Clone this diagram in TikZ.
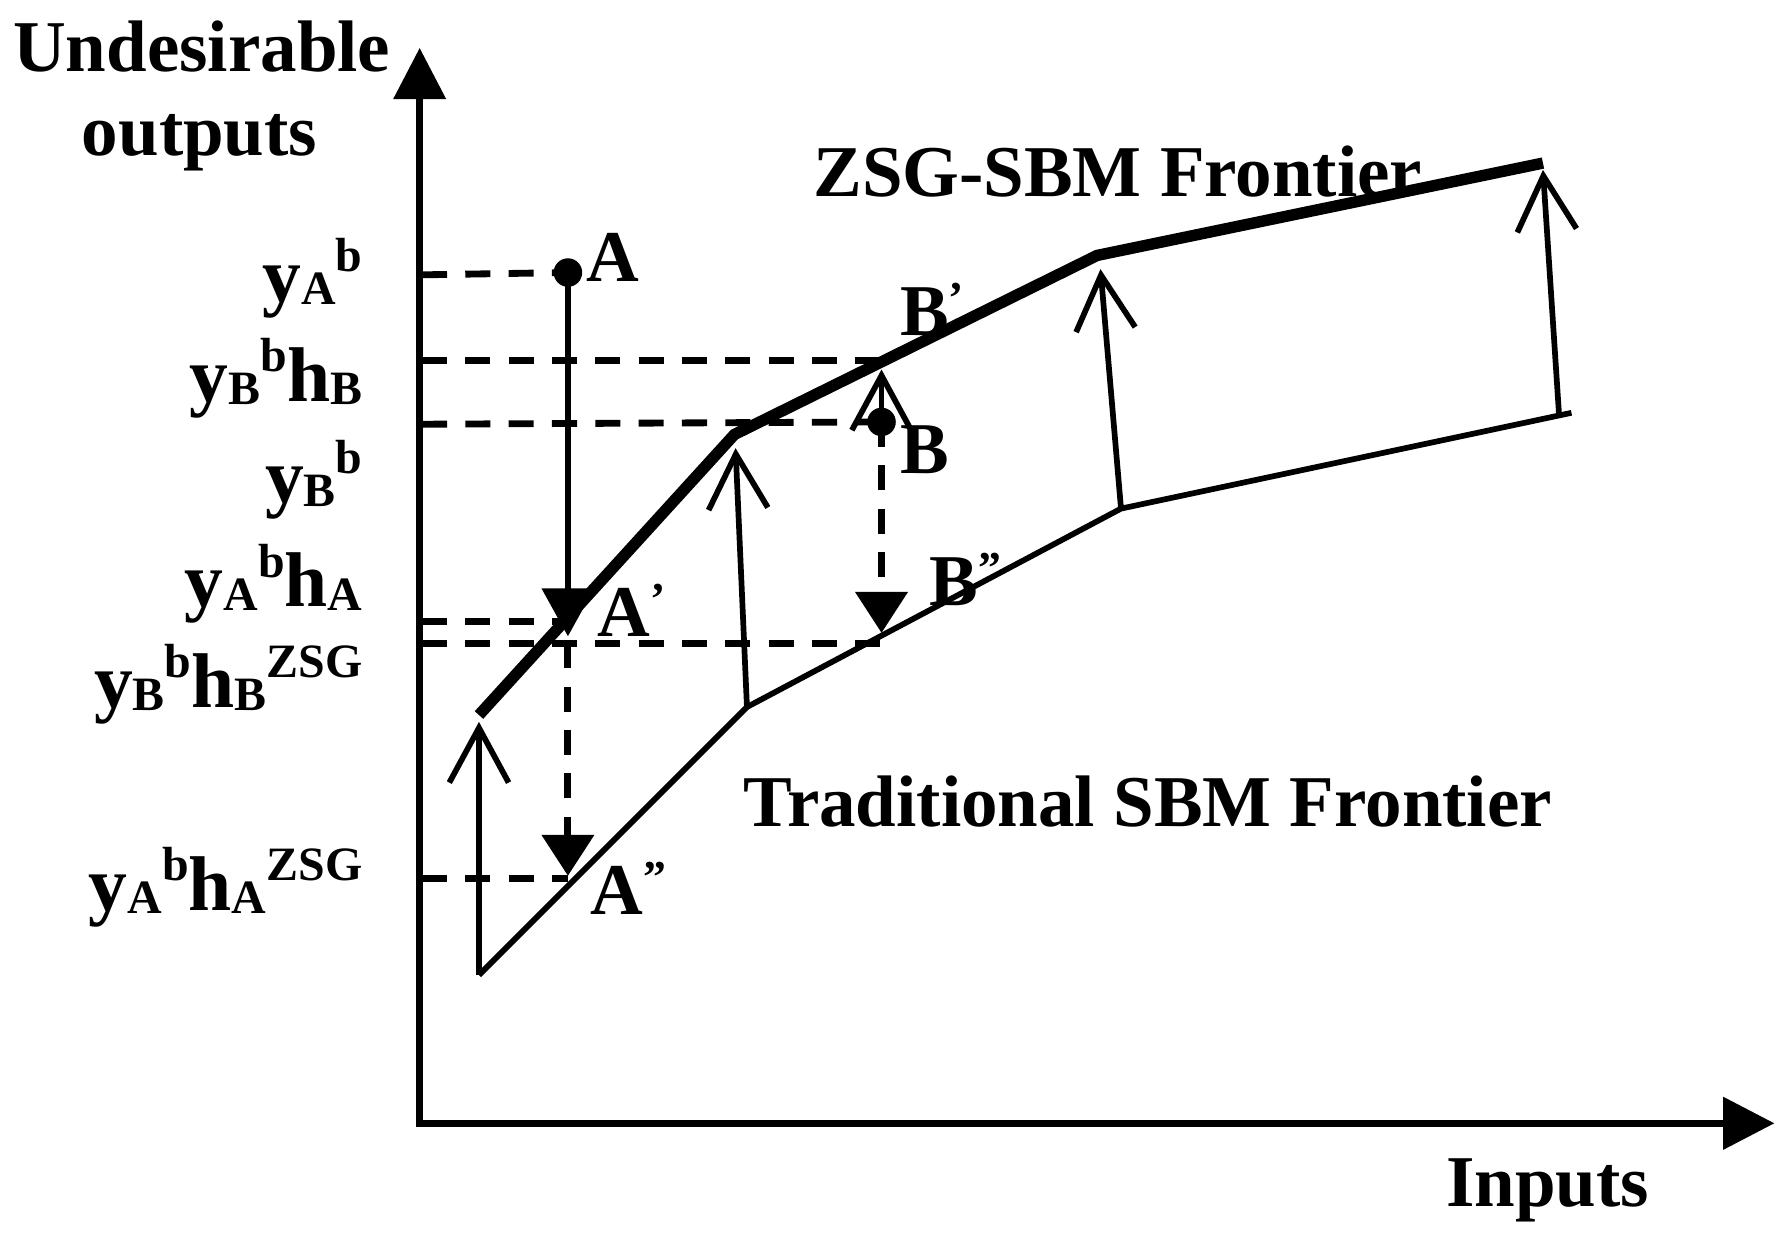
\documentclass[tikz,border=0pt]{standalone}
\usepackage{fontspec}
\setmainfont{Liberation Serif}
\usetikzlibrary{arrows.meta}
\newcommand\lsub[1]{\raisebox{-3pt}{\fontsize{42}{42}\selectfont #1}}
\newcommand\lsup[1]{\raisebox{26pt}{\fontsize{42}{42}\selectfont #1}}
\newcommand\lpr[1]{\raisebox{19pt}{\fontsize{40}{40}\selectfont #1}}
\begin{document}
\begin{tikzpicture}[x=1pt,y=-1pt,
  txt/.style={font=\fontsize{64}{70}\selectfont\bfseries, inner sep=0pt},
  lab/.style={font=\fontsize{68}{72}\selectfont\bfseries, inner sep=0pt, anchor=base east},
  ptlab/.style={txt, anchor=base west},
  axisline/.style={line width=6pt, -{Triangle[length=45pt,width=45pt]}},
  zsgline/.style={line width=10pt, line join=miter},
  tradline/.style={line width=5pt, line join=miter},
  shiftarrow/.style={line width=5pt, -{Straight Barb[length=48pt,width=52pt]}},
  guide/.style={line width=6pt, dash pattern=on 22pt off 16pt},
  downsolid/.style={line width=5pt, -{Triangle[length=42pt,width=45pt]}},
  downdash/.style={line width=6pt, dash pattern=on 22pt off 16pt, -{Triangle[length=36pt,width=45pt]}},
  dot/.style={circle, fill=black, inner sep=0pt, minimum size=25pt}
]
\useasboundingbox (0,0) rectangle (1560,1084);
% axes
\coordinate (O) at (368,988);
\coordinate (Ox) at (365,985);
\coordinate (Ytop) at (368,42);
\coordinate (Xend) at (1556,985);
\draw[axisline] (O) -- (Ytop);
\draw[axisline] (Ox) -- (Xend);
% frontiers
\coordinate (Z1) at (420,627);
\coordinate (Z2) at (644,381);
\coordinate (Z3) at (962,224);
\coordinate (Z4) at (1353,143);
\coordinate (T1) at (420,855);
\coordinate (T2) at (655,620);
\coordinate (T3) at (983,446);
\coordinate (T4) at (1378,362);
\draw[zsgline] (Z1) -- (Z2) -- (Z3) -- (Z4);
\draw[tradline] (T1) -- (T2) -- (T3) -- (T4);
% shift arrows
\coordinate (H1) at (420,633);
\coordinate (H2) at (645,393);
\coordinate (H4) at (965,236);
\coordinate (S5) at (1367,362);
\coordinate (H5) at (1353,149);
\draw[shiftarrow] (T1) -- (H1);
\draw[shiftarrow] (T2) -- (H2);
\draw[shiftarrow] (T3) -- (H4);
\draw[shiftarrow] (S5) -- (H5);
% points
\node[dot] (A) at (498,239) {};
\node[dot] (B) at (773,370) {};
\coordinate (Ap) at (498,545);
\coordinate (ApTip) at (498,558);
\coordinate (App) at (498,770);
\coordinate (AppTip) at (498,768);
\coordinate (Bp) at (773,316);
\coordinate (BpTip) at (773,324);
\coordinate (Bpp) at (773,564);
\coordinate (BppTip) at (773,555);
% axis anchors of guides
\coordinate (yA) at (370,241);
\coordinate (yBp) at (370,316);
\coordinate (yB) at (370,372);
\coordinate (yAp) at (370,545);
\coordinate (yBpp) at (370,564);
\coordinate (yApp) at (370,770);
% guides
\draw[guide] (yA) -- (A.center);
\draw[guide] (yBp) -- (Bp);
\draw[guide] (yB) -- (B.center);
\draw[guide] (yAp) -- (Ap);
\draw[guide] (yBpp) -- (Bpp);
\draw[guide] (yApp) -- (App);
% vertical moves
\draw[downsolid] (A.center) -- (ApTip);
\draw[downdash] (Ap |- Bpp) -- (AppTip);
\draw[downdash] (B.center) -- (BppTip);
\draw[shiftarrow] (B.center) -- (BpTip);
% point labels
\node[ptlab] (LA) at (514,247) {A};
\node[ptlab] (LBp) at (789,294) {B\lpr{’}};
\node[ptlab] (LB) at (789,415) {B};
\node[ptlab] (LBpp) at (815,531) {B\lpr{”}};
\node[ptlab] (LAp) at (524,558) {A\lpr{’}};
\node[ptlab] (LApp) at (518,802) {A\lpr{”}};
% axis labels
\node[lab] (l1) at (318,264) {y\lsub{A}\lsup{b}};
\node[lab] (l2) at (318,352) {y\lsub{B}\lsup{b}h\lsub{B}};
\node[lab] (l3) at (318,441) {y\lsub{B}\lsup{b}};
\node[lab] (l4) at (318,532) {y\lsub{A}\lsup{b}h\lsub{A}};
\node[lab] (l5) at (318,620) {y\lsub{B}\lsup{b}h\lsub{B}\lsup{ZSG}};
\node[lab] (l6) at (318,798) {y\lsub{A}\lsup{b}h\lsub{A}\lsup{ZSG}};
% titles
\node[txt, anchor=base] (t1) at (177,63) {Undesirable};
\node[txt, anchor=base] (t2) at (175,136) {outputs};
\node[txt, anchor=base west] (t3) at (713,172) {ZSG-SBM Frontier};
\node[txt, anchor=base west] (t4) at (652,725) {Traditional SBM Frontier};
\node[txt, anchor=base west] (t5) at (1268,1058) {Inputs};
\end{tikzpicture}
\end{document}
